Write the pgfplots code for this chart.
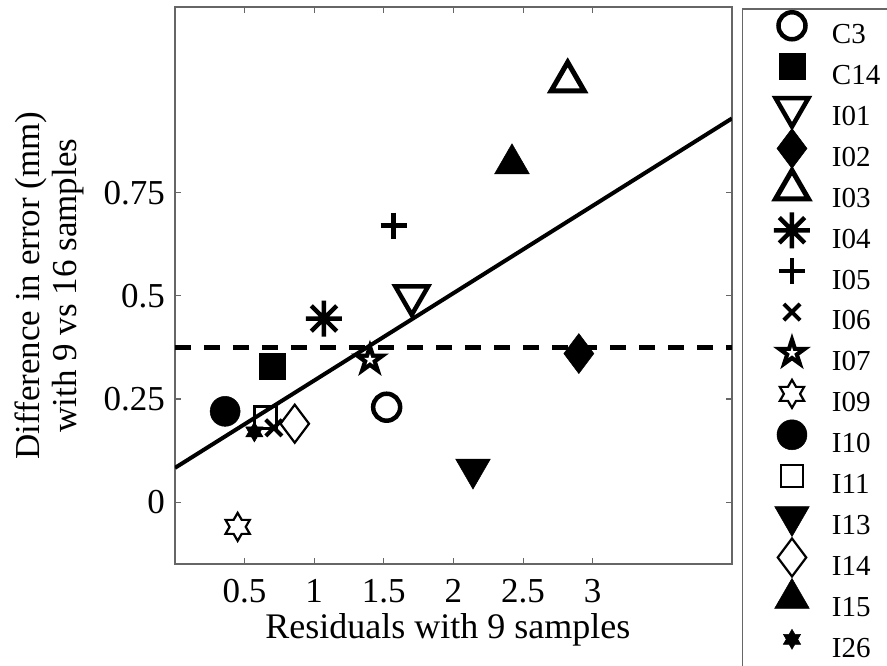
\documentclass[border=0pt]{standalone}
\usepackage{fontspec}
\setmainfont{Liberation Serif}
\usepackage{pgfplots}
\pgfplotsset{compat=1.18}

\def\pentpath#1{%
  \pgfpathmoveto{\pgfqpoint{0pt}{#1}}%
  \pgfpathlineto{\pgfqpoint{-.2245#1}{.3090#1}}%
  \pgfpathlineto{\pgfqpoint{-.9511#1}{.3090#1}}%
  \pgfpathlineto{\pgfqpoint{-.3633#1}{-.1180#1}}%
  \pgfpathlineto{\pgfqpoint{-.5878#1}{-.8090#1}}%
  \pgfpathlineto{\pgfqpoint{0pt}{-.382#1}}%
  \pgfpathlineto{\pgfqpoint{.5878#1}{-.8090#1}}%
  \pgfpathlineto{\pgfqpoint{.3633#1}{-.1180#1}}%
  \pgfpathlineto{\pgfqpoint{.9511#1}{.3090#1}}%
  \pgfpathlineto{\pgfqpoint{.2245#1}{.3090#1}}%
  \pgfpathclose}
\newdimen\innerstar
\pgfdeclareplotmark{pentagramw}{%
  \pentpath{\pgfplotmarksize}%
  \pgfusepathqfill
  \innerstar=0.3\pgfplotmarksize
  \pgfsetfillcolor{white}%
  \pgfpathmoveto{\pgfqpoint{0pt}{\innerstar}}%
  \pentpath{\innerstar}%
  \pgfusepathqfill}

\def\hexpath{%
  \pgfpathmoveto{\pgfqpoint{0pt}{\pgfplotmarksize}}%
  \pgfpathlineto{\pgfqpoint{-.2887\pgfplotmarksize}{.5\pgfplotmarksize}}%
  \pgfpathlineto{\pgfqpoint{-.866\pgfplotmarksize}{.5\pgfplotmarksize}}%
  \pgfpathlineto{\pgfqpoint{-.5774\pgfplotmarksize}{0pt}}%
  \pgfpathlineto{\pgfqpoint{-.866\pgfplotmarksize}{-.5\pgfplotmarksize}}%
  \pgfpathlineto{\pgfqpoint{-.2887\pgfplotmarksize}{-.5\pgfplotmarksize}}%
  \pgfpathlineto{\pgfqpoint{0pt}{-\pgfplotmarksize}}%
  \pgfpathlineto{\pgfqpoint{.2887\pgfplotmarksize}{-.5\pgfplotmarksize}}%
  \pgfpathlineto{\pgfqpoint{.866\pgfplotmarksize}{-.5\pgfplotmarksize}}%
  \pgfpathlineto{\pgfqpoint{.5774\pgfplotmarksize}{0pt}}%
  \pgfpathlineto{\pgfqpoint{.866\pgfplotmarksize}{.5\pgfplotmarksize}}%
  \pgfpathlineto{\pgfqpoint{.2887\pgfplotmarksize}{.5\pgfplotmarksize}}%
  \pgfpathclose}
\pgfdeclareplotmark{hexagram}{\hexpath\pgfusepathqstroke}
\pgfdeclareplotmark{hexagram*}{\hexpath\pgfusepathqfillstroke}

\pgfdeclareplotmark{ast8}{%
  \pgfpathmoveto{\pgfqpoint{0pt}{\pgfplotmarksize}}%
  \pgfpathlineto{\pgfqpoint{0pt}{-\pgfplotmarksize}}%
  \pgfpathmoveto{\pgfqpoint{\pgfplotmarksize}{0pt}}%
  \pgfpathlineto{\pgfqpoint{-\pgfplotmarksize}{0pt}}%
  \pgfpathmoveto{\pgfqpoint{.7071\pgfplotmarksize}{.7071\pgfplotmarksize}}%
  \pgfpathlineto{\pgfqpoint{-.7071\pgfplotmarksize}{-.7071\pgfplotmarksize}}%
  \pgfpathmoveto{\pgfqpoint{-.7071\pgfplotmarksize}{.7071\pgfplotmarksize}}%
  \pgfpathlineto{\pgfqpoint{.7071\pgfplotmarksize}{-.7071\pgfplotmarksize}}%
  \pgfusepathqstroke}

\pgfplotsset{mk/.style={only marks, black,
  legend image code/.code={\path[draw=none,fill=none] (-20pt,-11.45pt) rectangle (20pt,29.45pt);
    \draw[##1] plot coordinates {(0pt,9pt)};}}}

\definecolor{frame}{gray}{0.4}

\begin{document}
\begin{tikzpicture}
\useasboundingbox (-175pt,-102pt) rectangle (712pt,564pt);
\begin{axis}[
  at={(0pt,0pt)}, anchor=south west,
  scale only axis, width=557pt, height=557pt,
  xmin=0, xmax=4, ymin=-0.15, ymax=1.2,
  xtick={0.5,1,1.5,2,2.5,3}, xticklabels={0.5,1,1.5,2,2.5,3},
  ytick={0,0.25,0.5,0.75}, yticklabels={0,0.25,0.5,0.75},
  tick align=inside, tick pos=both, major tick length=6pt,
  axis line style={draw=frame, line width=1.4pt},
  tick style={draw=frame, line width=1.2pt},
  ticklabel style={font=\fontsize{35}{40}\selectfont},
  xticklabel style={anchor=base, yshift=-39pt},
  yticklabel style={inner xsep=0pt, xshift=-10pt},
  xlabel={Residuals with 9 samples},
  xlabel style={font=\fontsize{36}{40}\selectfont, at={(axis description cs:0.49,-0.1329)}, anchor=base, inner sep=0pt},
  ylabel={Difference in error (mm)\\with 9 vs 16 samples},
  ylabel style={align=center, font=\fontsize{35}{37}\selectfont, at={(axis description cs:-0.287,0.5)}, anchor=north, inner sep=0pt},
  legend style={at={(axis description cs:1.07181,1.0030)}, anchor=north west, draw=none, fill=none,
    inner sep=0pt, outer sep=0pt, row sep=0pt, column sep=20pt,
    font=\fontsize{29}{33}\selectfont, nodes={inner sep=0pt, outer sep=0pt}},
  legend cell align=left,
]
\addplot[mk, mark=o, mark size=13.5pt, mark options={line width=4.5pt}] coordinates {(1.52,0.23)};
\addlegendentry{C3}
\addplot[mk, mark=square*, mark size=13pt, mark options={line width=0.5pt}] coordinates {(0.70,0.33)};
\addlegendentry{C14}
\addplot[mk, mark=triangle, mark size=19pt, mark options={line width=4.5pt, rotate=180}] coordinates {(1.70,0.50)};
\addlegendentry{I01}
\addplot[mk, mark=diamond*, mark size=20pt, mark options={line width=0.5pt}] coordinates {(2.90,0.36)};
\addlegendentry{I02}
\addplot[mk, mark=triangle, mark size=19pt, mark options={line width=5pt}] coordinates {(2.82,1.02)};
\addlegendentry{I03}
\addplot[mk, mark=ast8, mark size=18pt, mark options={line width=4.5pt}] coordinates {(1.07,0.445)};
\addlegendentry{I04}
\addplot[mk, mark=+, mark size=13pt, mark options={line width=4.5pt}] coordinates {(1.57,0.67)};
\addlegendentry{I05}
\addplot[mk, mark=x, mark size=11.5pt, mark options={line width=4pt}] coordinates {(0.71,0.18)};
\addlegendentry{I06}
\addplot[mk, mark=pentagramw, mark size=20pt] coordinates {(1.40,0.345)};
\addlegendentry{I07}
\addplot[mk, mark=hexagram, mark size=14pt, mark options={line width=2.2pt}] coordinates {(0.45,-0.06)};
\addlegendentry{I09}
\addplot[mk, mark=*, mark size=15pt, mark options={line width=0.5pt}] coordinates {(0.36,0.22)};
\addlegendentry{I10}
\addplot[mk, mark=square, mark size=11pt, mark options={line width=2.2pt}] coordinates {(0.65,0.205)};
\addlegendentry{I11}
\addplot[mk, mark=triangle*, mark size=20pt, mark options={line width=0.5pt, rotate=180}] coordinates {(2.14,0.08)};
\addlegendentry{I13}
\addplot[mk, mark=diamond, mark size=19pt, mark options={line width=2.2pt}] coordinates {(0.86,0.19)};
\addlegendentry{I14}
\addplot[mk, mark=triangle*, mark size=20pt, mark options={line width=0.5pt}] coordinates {(2.42,0.82)};
\addlegendentry{I15}
\addplot[mk, mark=hexagram*, mark size=10pt, mark options={line width=0.5pt}] coordinates {(0.57,0.17)};
\addlegendentry{I26}
\addplot[forget plot, black, line width=4pt, no marks] coordinates {(0,0.083) (4,0.93)};
\addplot[forget plot, black, line width=5pt, no marks, dash pattern=on 16pt off 13pt] coordinates {(0,0.375) (4,0.375)};
\end{axis}
\draw[frame, line width=1.4pt] (567.7pt,-110pt) -- (567.7pt,555pt) -- (720pt,555pt);
\end{tikzpicture}
\end{document}
